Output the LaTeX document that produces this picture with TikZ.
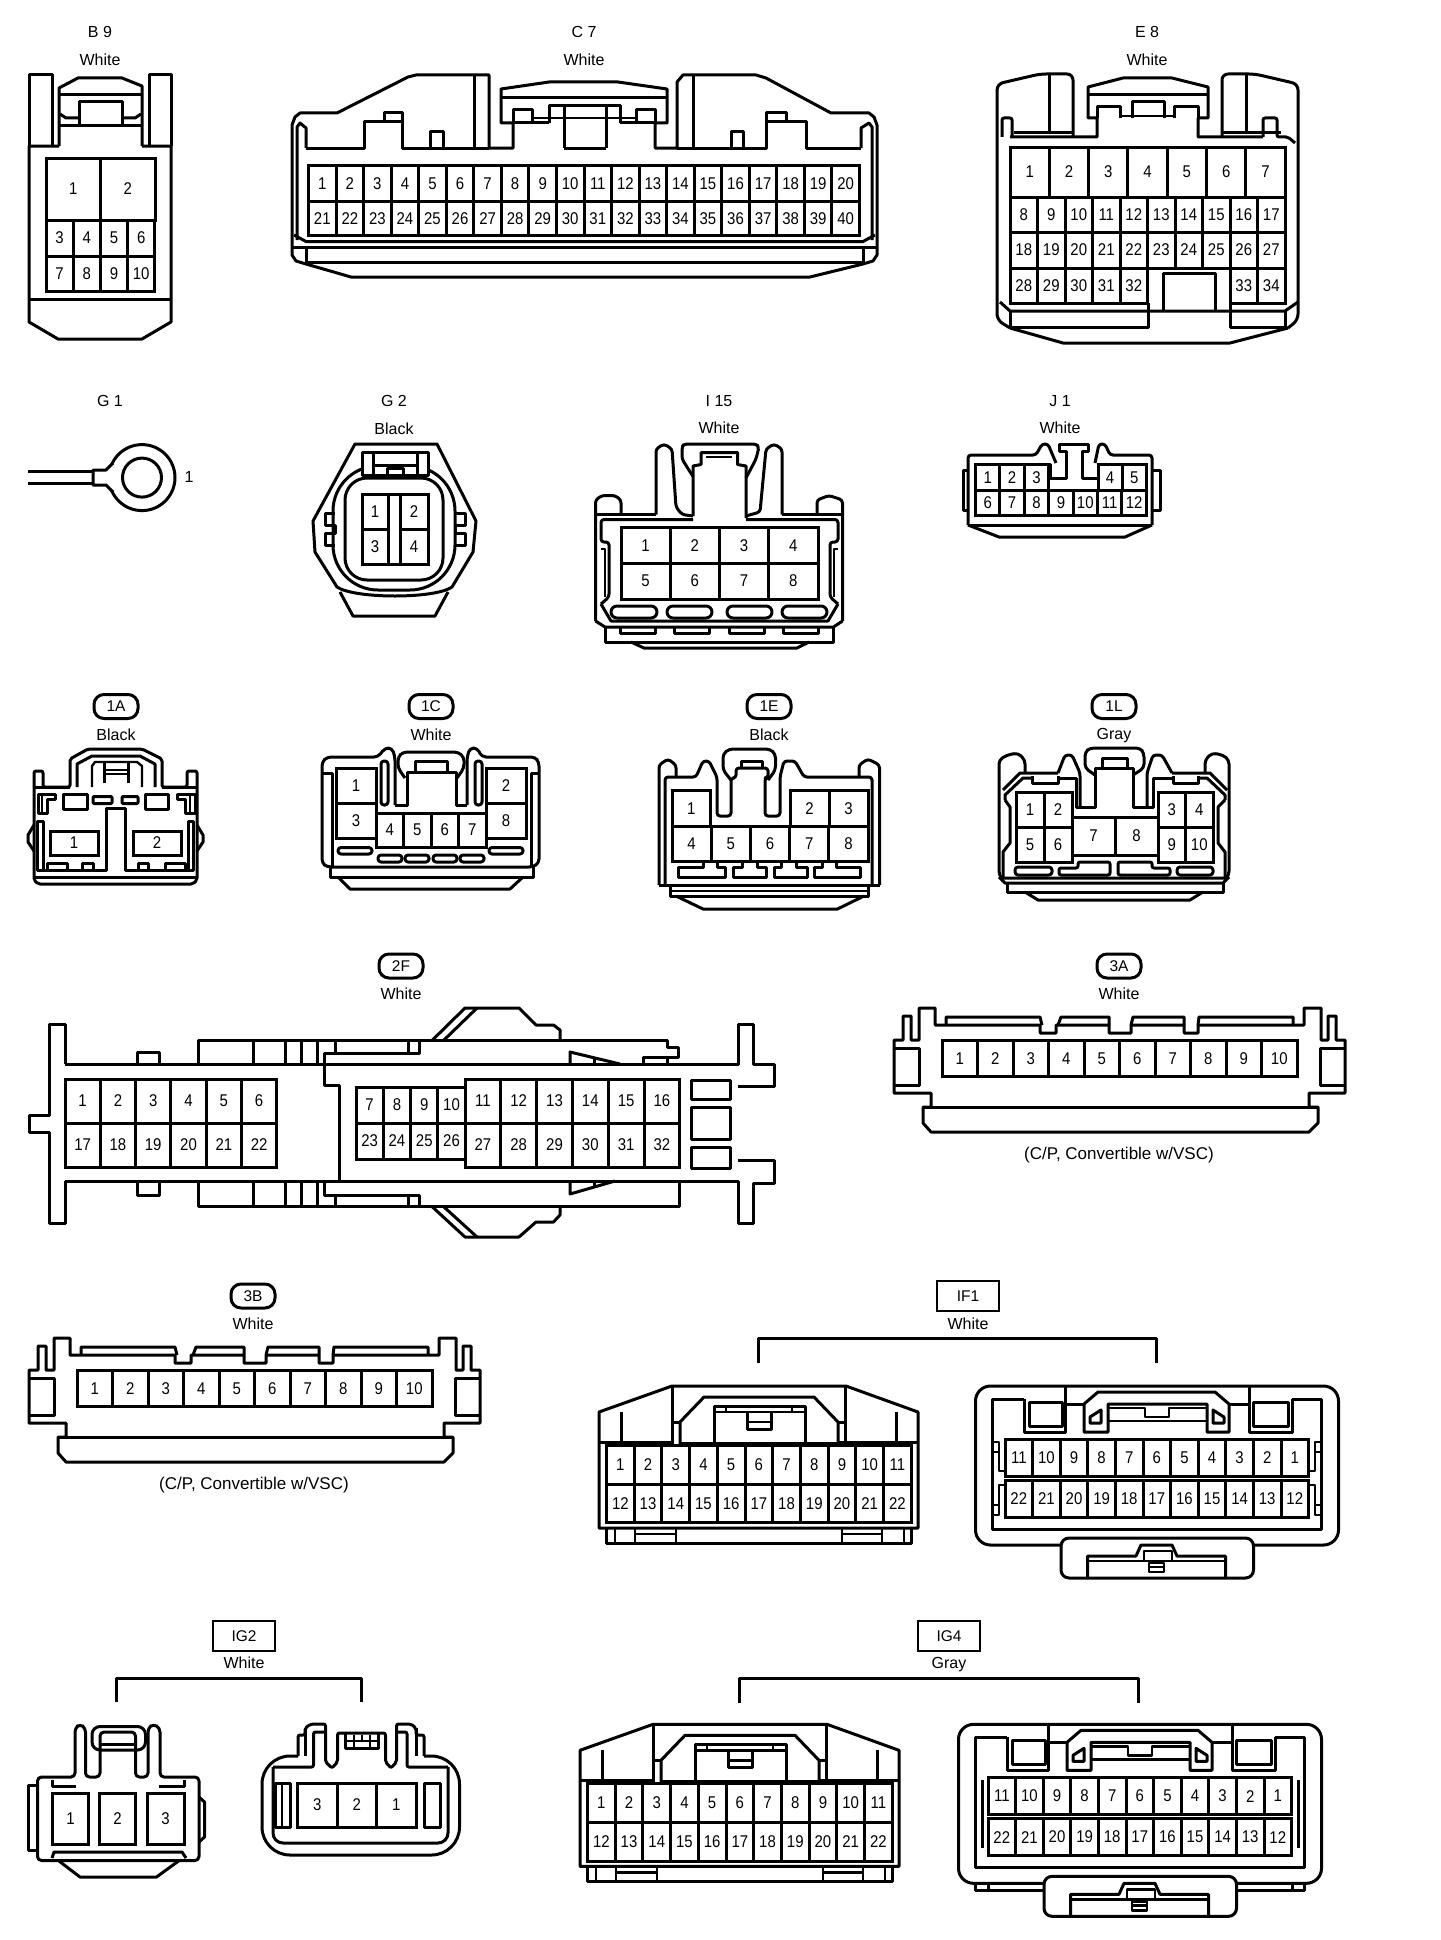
\documentclass[tikz,border=0pt]{standalone}
\usepackage{fontspec}
\setmainfont{Liberation Sans}
\newfontfamily\pinfont[FakeStretch=0.88]{Liberation Sans}
\tikzset{
  cn/.style={draw, line width=3pt, line join=round},
  thin cn/.style={draw, line width=2.4pt, line join=round},
  lab/.style={font=\fontsize{16}{16}\selectfont, inner sep=0pt},
  badge/.style={draw, line width=3pt, rounded corners=10pt, minimum width=44pt, minimum height=24pt, inner sep=0pt, font=\fontsize{15.5}{16}\selectfont},
  tagbox/.style={draw, line width=2.6pt, minimum width=62pt, minimum height=30pt, inner sep=0pt, font=\fontsize{15.5}{16}\selectfont},
  pincell/.style={draw, line width=3pt, inner sep=0pt, outer sep=0pt, anchor=north west, font=\pinfont\fontsize{17}{17}\selectfont}
}
% #1 name, #2 x, #3 y, #4 cell width, #5 cell height, #6 numbers
\newcommand{\pinrow}[6]{%
  \foreach \lab [count=\ci] in {#6}
    \node[pincell, minimum width=#4pt, minimum height=#5pt] (#1-\lab) at ({#2+(\ci-1)*#4},#3) {\lab};
}
\newcommand{\vscbody}[1]{%
  \draw[cn] (893,1040)--(902,1040)--(902,1016)--(910,1016)--(910,1040)--(918,1040)--(918,1008)--(934,1008)--(934,1025)--(1039,1025)--(1039,1033)--(1055,1033)--(1055,1025)--(1108,1025)--(1108,1033)--(1130,1033)--(1130,1025)--(1183,1025)--(1183,1033)--(1197,1033)--(1197,1025)--(1303,1025)--(1303,1008)--(1320,1008)--(1320,1040)--(1327,1040)--(1327,1016)--(1335,1016)--(1335,1040)--(1344,1040)--(1344,1093)--(1308,1093)--(1308,1107)--(1317,1107)--(1317,1123)--(1308,1132)--(930,1132)--(922,1123)--(922,1107)--(930,1107)--(930,1093)--(893,1093)--cycle;
  \draw[cn] (922,1107)--(1317,1107);
  \draw[cn] (945,1025)--(945,1017)--(1039,1017)--(1041,1025);
  \draw[cn] (1057,1025)--(1060,1017)--(1108,1017)--(1108,1025);
  \draw[cn] (1130,1025)--(1132,1017)--(1183,1017)--(1183,1025);
  \draw[cn] (1197,1025)--(1198,1017)--(1292,1017)--(1292,1025);
  \draw[cn] (893,1048)--(918,1048)--(918,1085)--(893,1085);
  \draw[cn] (1344,1048)--(1319,1048)--(1319,1085)--(1344,1085);
  \pinrow{#1}{941}{1040}{35.5}{36.7}{1,2,3,4,5,6,7,8,9,10}
  \node[lab, font=\fontsize{17}{17}\selectfont] (#1-note) at (1118,1155) {(C/P, Convertible w/VSC)};
}
\newcommand{\halfleft}[1]{%
  \draw[cn] (599,1412)--(672,1386)--(846,1386)--(918,1412)--(918,1528)--(599,1528)--cycle;
  \draw[cn] (599,1442)--(674,1442);
  \draw[cn] (839,1442)--(918,1442);
  \draw[cn] (621,1412)--(621,1442);
  \draw[cn] (896,1412)--(896,1442);
  \draw[cn] (672,1386)--(672,1445);
  \draw[cn] (845,1386)--(845,1445);
  \draw[cn] (672,1422)--(680,1422);
  \draw[cn] (838,1422)--(845,1422);
  \draw[cn] (680,1445)--(680,1422)--(704,1397)--(814,1397)--(838,1422)--(838,1445);
  \draw[cn] (680,1443)--(838,1443);
  \draw[cn] (714,1443)--(714,1406)--(805,1406)--(805,1443);
  \draw[thin cn] (714,1412)--(805,1412);
  \draw[thin cn] (726,1406)--(726,1412);
  \draw[thin cn] (792,1406)--(792,1412);
  \draw[cn] (747,1412)--(747,1429)--(771,1429)--(771,1412);
  \draw[thin cn] (747,1422)--(771,1422);
  \pinrow{#1}{606.5}{1445}{27.7}{39}{1,2,3,4,5,6,7,8,9,10,11}
  \pinrow{#1}{606.5}{1484}{27.7}{38.7}{12,13,14,15,16,17,18,19,20,21,22}
  \draw[cn] (606.5,1528)--(606.5,1543)--(911.5,1543)--(911.5,1528);
  \draw[thin cn] (615,1528)--(615,1543);
  \draw[thin cn] (635,1528)--(635,1543);
  \draw[thin cn] (676,1528)--(676,1543);
  \draw[thin cn] (635,1534)--(676,1534);
  \draw[thin cn] (842,1528)--(842,1543);
  \draw[thin cn] (882,1528)--(882,1543);
  \draw[thin cn] (904,1528)--(904,1543);
  \draw[thin cn] (842,1534)--(882,1534);
}
\newcommand{\halfright}[1]{%
  \draw[cn, rounded corners=15pt] (1061,1545)--(975.5,1545)--(975.5,1386)--(1338.5,1386)--(1338.5,1545)--(1253,1545);
  \draw[cn] (1024,1399)--(992,1399)--(992,1529)--(1321,1529)--(1321,1399)--(1292,1399);
  \draw[cn] (1024,1399)--(1024,1432)--(1065,1432)--(1065,1404)--(1084,1404);
  \draw[cn] (1292,1399)--(1292,1432)--(1249,1432)--(1249,1404)--(1229,1404);
  \draw[cn] (1065,1386)--(1065,1404);
  \draw[cn] (1249,1386)--(1249,1404);
  \draw[cn] (1029,1426)--(1029,1402)--(1062,1402)--(1062,1426)--cycle;
  \draw[cn] (1253,1426)--(1253,1402)--(1288,1402)--(1288,1426)--cycle;
  \draw[cn] (1084,1432)--(1084,1404)--(1098,1392)--(1215,1392)--(1229,1404)--(1229,1432)--(1207,1432)--(1207,1404)--(1108,1404)--(1108,1432)--cycle;
  \draw[cn] (1090,1423)--(1101,1423)--(1101,1410)--(1090,1417)--cycle;
  \draw[cn] (1213,1410)--(1224,1417)--(1224,1423)--(1213,1423)--cycle;
  \draw[thin cn] (1108,1408)--(1145,1408)--(1145,1417)--(1169,1417)--(1169,1408)--(1207,1408);
  \draw[thin cn] (1108,1421)--(1207,1421);
  \pinrow{#1}{1005}{1439}{27.6}{37.5}{11,10,9,8,7,6,5,4,3,2,1}
  \pinrow{#1}{1005}{1480}{27.6}{37.5}{22,21,20,19,18,17,16,15,14,13,12}
  \draw[cn, rounded corners=8pt] (1061,1538)--(1061,1578)--(1253.5,1578)--(1253.5,1538)--cycle;
  \draw[cn] (1087.5,1578)--(1087.5,1556)--(1136,1556)--(1141,1545)--(1172,1545)--(1177,1556)--(1225.5,1556)--(1225.5,1578);
  \draw[thin cn] (1087.5,1561)--(1225.5,1561);
  \draw[thin cn] (1144,1561)--(1144,1551)--(1172,1551)--(1172,1561);
  \draw[thin cn] (1149,1563)--(1164,1563)--(1164,1572)--(1149,1572)--cycle;
  \draw[thin cn] (1149,1567)--(1164,1567);
}
\begin{document}
\begin{tikzpicture}[x=1pt,y=-1pt]
\useasboundingbox[fill=white] (0,0) rectangle (1440,1940);

% B 9
\node[lab] (b9-name) at (100,32) {B 9};
\node[lab] (b9-color) at (100,60) {White};
\draw[cn] (59,146)--(29,146)--(29,322)--(58,339)--(142,339)--(171,322)--(171,146)--(142,146);
\draw[cn] (29,146)--(29,75)--(52,75)--(52,146);
\draw[cn] (149,146)--(149,75)--(171,75)--(171,146);
\draw[cn] (59,146)--(59,88)--(78,78)--(122,78)--(142,86)--(142,146);
\draw[cn] (60,95)--(141,95);
\draw[cn] (60,126)--(141,126);
\draw[cn] (79,126)--(79,102)--(122,102)--(122,126);
\draw[cn] (60,114)--(66,118)--(79,118);
\draw[cn] (141,114)--(135,118)--(122,118);
\draw[cn] (29,299)--(171,299);
\pinrow{b9}{46}{158}{54.5}{62}{1,2}
\pinrow{b9}{46}{220}{27.2}{36}{3,4,5,6}
\pinrow{b9}{46}{256}{27.2}{35}{7,8,9,10}

% C 7
\node[lab] (c7-name) at (584,32) {C 7};
\node[lab] (c7-color) at (584,60) {White};
\draw[cn] (292,125)--(295,117)--(300,113)--(337,113)--(408,77)--(416,75)--(489,75)--(489,148)--(513,148)--(513,123)--(501,123)--(501,89)--(549,82)--(618,82)--(667,89)--(667,123)--(655,123)--(655,148)--(677,148)--(677,82)--(683,75)--(756,75)--(766,78)--(831,113)--(869,113)--(874,117)--(877,125)--(877,255)--(873,261)--(863,264)--(810,277)--(351,277)--(306,264)--(296,261)--(292,255)--cycle;
\draw[cn] (474,75)--(474,148);
\draw[cn] (693,75)--(693,148);
\draw[cn] (501,98)--(667,98);
\draw[cn] (513,123)--(513,110)--(532,110)--(532,123);
\draw[cn] (636,123)--(636,110)--(655,110)--(655,123);
\draw[cn] (549,123)--(549,106)--(620,106)--(620,123);
\draw[cn] (564,148)--(564,106);
\draw[cn] (606,148)--(606,106);
\draw[thin cn] (532,118)--(636,118);
\draw[cn] (513,123)--(549,123);
\draw[cn] (620,123)--(655,123);
\draw[cn] (306,148)--(364,148)--(364,122)--(402,122)--(402,148)--(489,148);
\draw[cn] (384,122)--(384,113)--(402,113)--(402,122);
\draw[cn] (430,148)--(430,132)--(443,132)--(443,148);
\draw[cn] (564,148)--(606,148);
\draw[cn] (677,148)--(766,148)--(766,122)--(806,122)--(806,148)--(861,148);
\draw[cn] (766,122)--(766,113)--(786,113)--(786,122);
\draw[cn] (731,148)--(731,132)--(743,132)--(743,148);
\draw[cn] (306,148)--(306,128)--(300,123)--(297,127)--(297,240);
\draw[cn] (861,148)--(861,128)--(869,123)--(872,127)--(872,240);
\pinrow{c7}{308.5}{165.7}{27.55}{35.3}{1,2,3,4,5,6,7,8,9,10,11,12,13,14,15,16,17,18,19,20}
\pinrow{c7}{308.5}{201}{27.55}{34.7}{21,22,23,24,25,26,27,28,29,30,31,32,33,34,35,36,37,38,39,40}
\draw[cn] (294,235)--(306,241.5)--(863,241.5)--(875,235);
\draw[cn] (293,247)--(876,247);
\draw[cn] (306,247)--(306,264);
\draw[cn] (863,247)--(863,264);
\draw[cn] (306,262)--(863,262);

% E 8
\node[lab] (e8-name) at (1147,32) {E 8};
\node[lab] (e8-color) at (1147,60) {White};
\draw[cn, rounded corners=6pt] (1010,328)--(997,320)--(997,84)--(1040,74)--(1073,74)--(1073,137);
\draw[cn, rounded corners=6pt] (1288,328)--(1298,320)--(1298,84)--(1255,74)--(1222,74)--(1222,137);
\draw[cn] (1010,328)--(1063,343)--(1230,343)--(1288,328);
\draw[cn] (1049,74)--(1049,133);
\draw[cn] (1246,74)--(1246,133);
\draw[cn] (1014,133)--(1073,133);
\draw[cn] (1222,133)--(1281,133);
\draw[cn, rounded corners=2pt] (1002,137)--(1002,118)--(1012,118)--(1012,137);
\draw[cn] (1010,137)--(1097,137)--(1097,118)--(1088,118)--(1088,87)--(1123,78)--(1172,78)--(1208,87)--(1208,118)--(1198,118)--(1198,137)--(1263,137);
\draw[cn, rounded corners=2pt] (1263,137)--(1263,118)--(1277,118)--(1277,137)--(1288,137)--(1295,143);
\draw[cn] (1088,95)--(1208,95);
\draw[cn] (1097,118)--(1097,107)--(1120,107)--(1120,118);
\draw[cn] (1132,118)--(1132,102)--(1164,102)--(1164,118);
\draw[cn] (1174,118)--(1174,107)--(1198,107)--(1198,118);
\draw[thin cn] (1120,116)--(1174,116);
\pinrow{e8}{1010}{147}{39.3}{50}{1,2,3,4,5,6,7}
\pinrow{e8}{1010}{197}{27.5}{35}{8,9,10,11,12,13,14,15,16,17}
\pinrow{e8}{1010}{232}{27.5}{36}{18,19,20,21,22,23,24,25,26,27}
\pinrow{e8}{1010}{268}{27.5}{35}{28,29,30,31,32}
\pinrow{e8}{1230}{268}{27.5}{35}{33,34}
\draw[cn] (1163,311)--(1163,273)--(1215,273)--(1215,311);
\draw[cn] (1000,302)--(1010,311)--(1285,311)--(1298,302);
\draw[cn] (1010,311)--(1010,327)--(1148,327)--(1148,303);
\draw[cn] (1230,303)--(1230,327)--(1285,327)--(1285,311);

% G 1
\node[lab] (g1-name) at (110,401) {G 1};
\draw[cn] (142,477.6) circle[radius=33pt];
\draw[cn] (142,477.6) circle[radius=19.5pt];
\draw[cn, fill=white] (113,463)--(106,470)--(93,470)--(93,485)--(106,485)--(113,492);
\draw[cn] (28,471.5)--(93,471.5);
\draw[cn] (28,483)--(93,483);
\node[lab] (g1-pin) at (189,477) {1};

% G 2
\node[lab] (g2-name) at (394,401) {G 2};
\node[lab] (g2-color) at (394,429) {Black};
\draw[cn] (355,444)--(437,444)--(476,521)--(473,552)--(452,587) .. controls (435,599) and (355,599) .. (337,587)--(315,552)--(313,521)--cycle;
\draw[cn] (340,592)--(353,616)--(435,616)--(448,592);
\draw[cn, rounded corners=45pt] (333,466) rectangle (455,590);
\draw[cn, rounded corners=22pt] (345,478) rectangle (443,580);
\draw[cn, fill=white] (362,452) rectangle (428,475);
\draw[cn] (373,452)--(373,475);
\draw[cn] (417,452)--(417,475);
\draw[cn] (373,465)--(417,465);
\draw[cn] (387,475)--(387,468)--(403,468)--(403,475);
\pinrow{g2}{362}{494}{26}{35}{1}
\pinrow{g2}{400}{494}{28}{35}{2}
\pinrow{g2}{362}{529}{26}{35.5}{3}
\pinrow{g2}{400}{529}{28}{35.5}{4}
\draw[cn] (388,494)--(400,494);
\draw[cn] (388,564.5)--(400,564.5);
\draw[cn] (335,513)--(325,513)--(325,525)--(335,525)--(335,533)--(325,533)--(325,545)--(335,545);
\draw[cn] (455,513)--(465,513)--(465,525)--(455,525)--(455,533)--(465,533)--(465,545)--(455,545);

% I 15
\node[lab] (i15-name) at (719,401) {I 15};
\node[lab] (i15-color) at (719,428) {White};
\draw[cn, rounded corners=3pt] (595.5,621)--(595.5,500)--(602,495.5)--(615,495.5)--(621,500)--(621,514.5);
\draw[cn] (595.5,514.5)--(656,514.5);
\draw[cn, rounded corners=3pt] (656,514.5)--(656,449)--(664,444)--(672,449)--(676,507)--(682,514.5)--(693,516);
\draw[cn] (693,516)--(693,466)--(701,464.5)--(701,452.5)--(737.5,452.5)--(737.5,464.5)--(746,466)--(746,518);
\draw[thin cn] (706,457)--(732,457);
\draw[cn, rounded corners=3pt] (693,476.5)--(682,459)--(682,447)--(684,444)--(756,444)--(759,447)--(756,459)--(746,478);
\draw[cn, rounded corners=3pt] (746,516)--(760,512)--(766,449)--(774,444)--(782,449)--(782,514.5);
\draw[cn] (782,514.5)--(842.5,514.5);
\draw[cn, rounded corners=3pt] (817,514.5)--(817,500)--(829,495.5)--(842.5,500)--(842.5,621);
\draw[cn, rounded corners=3pt] (693,519.5)--(601,519.5)--(601,542)--(609,542)--(609,597)--(601,604);
\draw[cn, rounded corners=3pt] (746,519.5)--(838,519.5)--(838,542)--(830,542)--(830,597)--(838,604);
\draw[thin cn] (601,549)--(605,549)--(605,597);
\draw[thin cn] (838,549)--(834,549)--(834,597);
\pinrow{i15}{621}{527.5}{49.25}{35.5}{1,2,3,4}
\pinrow{i15}{621}{563}{49.25}{36}{5,6,7,8}
\foreach \px/\qx [count=\ci] in {611/657,667/712,727/772,782/827}
  \draw[cn, rounded corners=6pt] (\px,606) rectangle (\qx,618);
\draw[cn] (601,604)--(611,621)--(828,621)--(838,604);
\draw[cn] (595.5,621)--(605,627)--(833.5,627)--(842.5,621);
\draw[cn] (605,627)--(605,642)--(833.5,642)--(833.5,627);
\draw[cn] (631,642)--(644,648)--(797,648)--(809,642);
\foreach \px/\qx [count=\ci] in {620/655,674/709,729/764,783/818}
  \draw[cn] (\px,627)--(\px,633.5)--(\qx,633.5)--(\qx,627);

% J 1
\node[lab] (j1-name) at (1060,401) {J 1};
\node[lab] (j1-color) at (1060,428) {White};
\draw[cn, rounded corners=3pt] (968,525)--(968,455)--(1036,455)--(1042,444)--(1048,444)--(1056,463);
\draw[cn, rounded corners=3pt] (1095,463)--(1099,444)--(1105,444)--(1110,455)--(1152,455)--(1152,525);
\draw[cn] (968,525)--(1152,525);
\draw[cn] (968,525)--(999,537)--(1125,537)--(1152,525);
\draw[cn] (968,470)--(963,470)--(963,510)--(968,510);
\draw[cn] (1152,470)--(1160,470)--(1160,510)--(1152,510);
\draw[cn] (975.5,464.5)--(1050,464.5)--(1050,478)--(1066,478)--(1066,451)--(1059,451)--(1059,444)--(1088.5,444)--(1088.5,451)--(1082,451)--(1082,478)--(1098,478)--(1098,464.5);
\pinrow{j1}{975.5}{464.5}{24.4}{25.5}{1,2,3}
\pinrow{j1}{1098}{464.5}{24.1}{25.5}{4,5}
\pinrow{j1}{975.5}{490}{24.4}{25.5}{6,7,8,9,10,11,12}

% 1A
\node[badge] (a1-name) at (116,706.5) {1A};
\node[lab] (a1-color) at (116,734.5) {Black};
\draw[cn, rounded corners=2pt] (34,771)--(34,880)--(38,884)--(193,884)--(197,880)--(197,771)--(187,771)--(187,787)--(162,787)--(162,759)--(142,749)--(88,749)--(70,759)--(70,787)--(43,787)--(43,771)--cycle;
\draw[cn] (77,787)--(77,764)--(92,756)--(140,756)--(155,764)--(155,787);
\draw[thin cn] (92,787)--(92,766)--(95,762)--(137,762)--(142,766)--(142,787);
\draw[cn] (104,762)--(104,783);
\draw[cn] (128,762)--(128,783);
\draw[thin cn] (104,770)--(128,770);
\draw[thin cn] (104,774)--(128,774);
\draw[cn] (34,787)--(70,787);
\draw[cn] (162,787)--(197,787);
\draw[cn] (63,794) rectangle (87,809);
\draw[cn, rounded corners=1pt] (93,796.5) rectangle (112,803.5);
\draw[cn, rounded corners=1pt] (122,796.5) rectangle (138,803.5);
\draw[cn] (145,794) rectangle (168,809);
\draw[cn] (38,794)--(55,794)--(55,799)--(47,799)--(47,813)--(38,813)--cycle;
\draw[cn] (195,794)--(177,794)--(177,799)--(185,799)--(185,813)--(195,813)--cycle;
\draw[thin cn] (42,794)--(42,813);
\draw[thin cn] (190,794)--(190,813);
\draw[cn] (37,870)--(106,870)--(106,808)--(125,808)--(125,870)--(193,870);
\draw[cn] (37,821) rectangle (43,870);
\draw[cn] (188,821) rectangle (193,870);
\draw[cn] (34,825)--(28,835)--(28,842)--(34,851);
\draw[cn] (197,825)--(203,835)--(203,842)--(197,851);
\pinrow{a1}{50}{831}{48}{24}{1}
\pinrow{a1}{133}{831}{48}{24}{2}
\draw[cn] (47,870)--(47,863)--(67,863)--(67,870);
\draw[cn] (82,870)--(82,863)--(93,863)--(93,870);
\draw[cn] (138,870)--(138,863)--(148,863)--(148,870);
\draw[cn] (165,870)--(165,863)--(185,863)--(185,870);
\draw[cn] (34,877)--(197,877);

% 1C
\node[badge] (c1-name) at (431,706.5) {1C};
\node[lab] (c1-color) at (431,734.5) {White};
\draw[cn, rounded corners=4pt] (395,805)--(395,757)--(392,748)--(385,748)--(378,757)--(327,757)--(322,762)--(322,863)--(327,867)--(533,867)--(539,863)--(539,762)--(535,757)--(482,757)--(477,748)--(470,748)--(467,757)--(467,805);
\draw[cn, rounded corners=4pt] (405,778)--(398,768)--(398,757)--(403,752)--(458,752)--(464,757)--(464,768)--(457,778);
\draw[cn] (395,805)--(407,805)--(407,772)--(415,772)--(415,761)--(447,761)--(447,772)--(456,772)--(456,805)--(467,805);
\draw[cn] (415,772)--(447,772);
\draw[cn, rounded corners=3pt] (381,761) rectangle (388,805);
\draw[cn, rounded corners=3pt] (475,761) rectangle (482,805);
\draw[cn] (322,773)--(332,773)--(332,867);
\draw[cn] (539,773)--(531,773)--(531,867);
\pinrow{c1}{336}{768}{40}{35}{1}
\pinrow{c1}{336}{803}{40}{35}{3}
\pinrow{c1}{486}{768}{40}{35}{2}
\pinrow{c1}{486}{803}{40}{35}{8}
\pinrow{c1}{376}{813}{27.5}{34}{4,5,6,7}
\foreach \px/\qx [count=\ci] in {338/372,489/523}
  \draw[cn, rounded corners=3pt] (\px,847.5) rectangle (\qx,854);
\foreach \px/\qx [count=\ci] in {378/402,405/429,433/457,460/484}
  \draw[cn, rounded corners=3pt] (\px,855) rectangle (\qx,862);
\draw[cn] (330,867)--(330,877)--(533,877)--(533,867);
\draw[cn] (338,877)--(350,889)--(510,889)--(523,877);

% 1E
\node[badge] (e1-name) at (769,706.5) {1E};
\node[lab] (e1-color) at (769,734.5) {Black};
\draw[cn, rounded corners=3pt] (659,885)--(659,765)--(668,759)--(676,765)--(676,777);
\draw[cn, rounded corners=3pt] (859,777)--(859,765)--(868,759)--(879.5,765)--(879.5,885);
\draw[cn, rounded corners=3pt] (665,885)--(665,777)--(696,777)--(703,761)--(709,761)--(717,777)--(717,816)--(731,816)--(731,778)--(736,778)--(736,768)--(768,768)--(768,778)--(765,778)--(765,816)--(780,816)--(780,777)--(784,761)--(795,761)--(804,777)--(872,777)--(872,885);
\draw[cn] (741.5,768)--(741.5,761)--(762,761)--(762,768);
\draw[cn, rounded corners=4pt] (731,780)--(723,770)--(723,754)--(729,749)--(770,749)--(775.5,754)--(775.5,770)--(768,780);
\pinrow{e1}{672}{790}{38.6}{36.5}{1}
\pinrow{e1}{790}{790}{39}{36.5}{2,3}
\pinrow{e1}{672}{826.5}{39.2}{34.5}{4,5,6,7,8}
\foreach \px/\qx/\sx/\tx [count=\ci] in {678/725/703/717,733.5/766/742/757,774/807/781/796,814/860/822/836}
  \draw[cn] (\sx,861)--(\sx,867)--(\px,867)--(\px,877)--(\qx,877)--(\qx,867)--(\tx,867)--(\tx,861);
\draw[cn] (659,885)--(879.5,885);
\draw[cn] (670,885)--(670,896)--(868,896)--(868,885);
\draw[thin cn] (670,891)--(868,891);
\draw[cn] (676,896)--(703,909)--(837.5,909)--(864,896);

% 1L
\node[badge] (l1-name) at (1114,706.5) {1L};
\node[lab] (l1-color) at (1114,736) {Gray};
\draw[cn, rounded corners=4pt] (1003,880)--(999,875)--(999,760)--(1007,755)--(1018,753)--(1025,760)--(1025,773);
\draw[cn, rounded corners=4pt] (1205,773)--(1205,760)--(1212,753)--(1223,755)--(1229,760)--(1229,875)--(1225,880);
\draw[cn] (1003,790)--(1020,773)--(1058,773);
\draw[cn] (1227,790)--(1210,773)--(1172,773);
\draw[cn] (1005,800)--(1005,795)--(1023,778)--(1032,778);
\draw[cn] (1225,800)--(1225,795)--(1207,778)--(1198,778);
\draw[cn] (1032,776)--(1032,783)--(1058,783)--(1058,776);
\draw[cn] (1173,776)--(1173,783)--(1198,783)--(1198,776);
\draw[cn] (1058,778)--(1076,778)--(1076,807)--(1095,807)--(1095,768)--(1133,768)--(1133,807)--(1153,807)--(1153,778)--(1173,778);
\draw[cn, rounded corners=3pt] (1058,773)--(1065,755)--(1072,755)--(1080,773)--(1080,807);
\draw[cn, rounded corners=3pt] (1147,807)--(1147,773)--(1153,755)--(1162,755)--(1172,773);
\draw[cn, rounded corners=4pt] (1095,775)--(1085,768)--(1085,752)--(1090,748)--(1140,748)--(1144,753)--(1144,768)--(1133,775);
\draw[cn] (1102,768)--(1102,758)--(1127,758)--(1127,768);
\pinrow{l1}{1016}{792}{28}{35}{1,2}
\pinrow{l1}{1016}{827}{28}{35}{5,6}
\pinrow{l1}{1158}{792}{27.5}{35}{3,4}
\pinrow{l1}{1158}{827}{27.5}{35}{9,10}
\pinrow{l1}{1072}{817}{43}{38}{7,8}
\draw[cn, rounded corners=3pt] (1015,867) rectangle (1052,875);
\draw[cn, rounded corners=3pt] (1177,867) rectangle (1213,875);
\draw[cn, rounded corners=2pt] (1059,875)--(1059,868)--(1078,868)--(1078,862)--(1110,862)--(1110,875)--cycle;
\draw[cn, rounded corners=2pt] (1118,875)--(1118,862)--(1152,862)--(1152,868)--(1170,868)--(1170,875)--cycle;
\draw[cn] (1005,800)--(1010,807)--(1010,843)--(1003,852)--(1003,878)--(1225,878)--(1225,852)--(1218,843)--(1218,807)--(1225,800);
\draw[cn] (999,877)--(1005,883)--(1223,883)--(1229,877);
\draw[cn] (1007,883)--(1007,892)--(1223,892)--(1223,883);
\draw[cn] (1025,892)--(1038,900)--(1190,900)--(1203,892);

% 2F
\node[badge] (f2-name) at (401,966) {2F};
\node[lab] (f2-color) at (401,994) {White};
\draw[cn] (65,1064)--(65,1024)--(49.5,1024)--(49.5,1115)--(29,1115)--(29,1132)--(49.5,1132)--(49.5,1223)--(65,1223)--(65,1181);
\draw[cn] (65,1064)--(198,1064);
\draw[cn] (137,1064)--(137,1052)--(159,1052)--(159,1064);
\draw[cn] (65,1181)--(198,1181);
\draw[cn] (137,1181)--(137,1195)--(159,1195)--(159,1181);
\draw[cn] (198,1064)--(198,1040)--(667,1040)--(667,1047)--(678.5,1047)--(678.5,1057)--(667,1057)--(667,1064);
\draw[cn] (198,1181)--(198,1206)--(679.5,1206)--(679.5,1181);
\foreach \vx in {253.5,285.5,301,317,335} {
  \draw[cn] (\vx,1040)--(\vx,1053);
  \draw[cn] (\vx,1195)--(\vx,1206);
}
\foreach \vx in {253.5,285.5,301,317} {
  \draw[cn] (\vx,1053)--(\vx,1064);
  \draw[cn] (\vx,1181)--(\vx,1195);
}
\draw[cn] (198,1064)--(324,1064);
\draw[cn] (339,1181)--(339,1085)--(324,1085)--(324,1053)--(419,1053)--(419,1040);
\draw[cn] (408,1040)--(408,1053);
\draw[cn] (324,1064)--(738,1064)--(738,1024)--(753.5,1024)--(753.5,1064)--(774,1064)--(774,1086)--(738,1086);
\draw[cn] (198,1181)--(738,1181)--(738,1223)--(753.5,1223)--(753.5,1183)--(774,1183)--(774,1160)--(738,1160);
\draw[cn] (324,1181)--(324,1195)--(419,1195)--(419,1206);
\draw[cn] (408,1195)--(408,1206);
\draw[cn] (432.5,1040)--(465,1008)--(519,1008)--(536,1025)--(553.5,1025)--(560,1030)--(560,1040);
\draw[cn] (444,1040)--(477,1008);
\draw[cn] (432.5,1207)--(465,1237)--(519,1237)--(536,1222)--(553.5,1222)--(560,1215)--(560,1206);
\draw[cn] (444,1207)--(477,1237);
\draw[cn] (570,1064)--(570,1052)--(620,1064);
\draw[cn] (594,1058)--(594,1064);
\draw[cn] (643,1064)--(643,1057)--(667,1057);
\draw[cn] (570,1181)--(570,1194)--(615,1181);
\draw[cn] (594,1181)--(594,1188);
\pinrow{f2}{65}{1079}{35.3}{44}{1,2,3,4,5,6}
\pinrow{f2}{65}{1123}{35.3}{44}{17,18,19,20,21,22}
\pinrow{f2}{356}{1087}{27.3}{36}{7,8,9,10}
\pinrow{f2}{356}{1123}{27.3}{36}{23,24,25,26}
\pinrow{f2}{465}{1079}{35.8}{44}{11,12,13,14,15,16}
\pinrow{f2}{465}{1123}{35.8}{44}{27,28,29,30,31,32}
\draw[cn] (691,1080) rectangle (730,1099);
\draw[cn] (691,1107) rectangle (730,1139);
\draw[cn] (691,1147) rectangle (730,1168);

% 3A
\node[badge] (a3-name) at (1119,966) {3A};
\node[lab] (a3-color) at (1119,994) {White};
\begin{scope}[shift={(1,0)}]
\vscbody{a3}
\end{scope}

% 3B
\node[badge] (b3-name) at (253,1296) {3B};
\node[lab] (b3-color) at (253,1324) {White};
\begin{scope}[shift={(-864,330)}]
\vscbody{b3}
\end{scope}

% IF1
\node[tagbox] (if1-name) at (968,1296) {IF1};
\node[lab] (if1-color) at (968,1323.5) {White};
\coordinate (if1-a) at (758.5,1363);
\coordinate (if1-b) at (1156.5,1363);
\draw[cn] (if1-a)--(758.5,1338)--(1156.5,1338)--(if1-b);
\halfleft{if1l}
\halfright{if1r}
\draw[thin cn] (1005,1471)--(999,1471)--(999,1442)--(992,1442);
\draw[thin cn] (992,1452)--(999,1452);
\draw[thin cn] (1005,1485)--(999,1485)--(999,1515)--(992,1515);
\draw[thin cn] (992,1505)--(999,1505);
\draw[thin cn] (1308.5,1471)--(1315,1471)--(1315,1442)--(1321,1442);
\draw[thin cn] (1321,1452)--(1315,1452);
\draw[thin cn] (1308.5,1485)--(1315,1485)--(1315,1515)--(1321,1515);
\draw[thin cn] (1321,1505)--(1315,1505);

% IG2
\node[tagbox] (ig2-name) at (244,1636) {IG2};
\node[lab] (ig2-color) at (244,1663) {White};
\coordinate (ig2-a) at (116,1702);
\coordinate (ig2-b) at (361,1702);
\draw[cn] (ig2-a)--(116,1678)--(361,1678)--(ig2-b);
\draw[cn, rounded corners=4pt] (37.5,1785)--(37.5,1777)--(75,1777)--(75,1728)--(80,1724)--(85.5,1728)--(85.5,1777)--(100,1777)--(100,1748);
\draw[cn, rounded corners=4pt] (135.5,1748)--(135.5,1777)--(148,1777)--(148,1728)--(153.5,1724)--(160,1728)--(160,1777)--(199,1777)--(199,1860.5)--(37.5,1860.5)--(37.5,1785);
\draw[cn] (37.5,1785)--(28.5,1785)--(28.5,1850)--(37.5,1850);
\draw[cn] (199,1797)--(204.5,1802)--(204.5,1837)--(199,1842);
\draw[cn, rounded corners=8pt] (92,1726.5) rectangle (145.5,1750);
\draw[cn, rounded corners=4pt] (100,1748)--(100,1732)--(135.5,1732)--(135.5,1748);
\draw[cn] (100,1744)--(135.5,1744);
\draw[cn] (52,1780)--(52,1786)--(76,1786);
\draw[cn] (159,1786)--(184,1786)--(184,1780);
\pinrow{ig2l}{52.5}{1793}{36}{51}{1}
\pinrow{ig2l}{99.5}{1793}{36}{51}{2}
\pinrow{ig2l}{147}{1793}{37}{51}{3}
\draw[cn] (52,1858)--(54,1852)--(182,1852)--(186,1858);
\draw[cn] (59,1861)--(80,1877)--(156.5,1877)--(178.5,1861);
\draw[cn, rounded corners=28pt] (298,1756)--(262,1756)--(262,1855)--(459.5,1855)--(459.5,1756)--(424,1756);
\draw[cn, rounded corners=2pt] (298,1756)--(298,1735)--(305,1735)--(305,1728)--(311,1724)--(325.5,1724)--(325.5,1762)--(332,1768)--(337.5,1762)--(337.5,1733)--(385.5,1733)--(385.5,1762)--(391,1768)--(396.5,1762)--(396.5,1724)--(411,1724)--(416,1728)--(416,1735)--(424,1735)--(424,1756);
\draw[cn] (305,1728)--(305,1756);
\draw[cn] (416,1728)--(416,1756);
\draw[cn, rounded corners=2pt] (273,1767)--(313.5,1767)--(313.5,1732)--(325.5,1732);
\draw[cn, rounded corners=2pt] (396.5,1732)--(407,1732)--(407,1767)--(448,1767);
\draw[cn, rounded corners=10pt] (273,1767)--(273,1843)--(448,1843)--(448,1767);
\pinrow{ig2r}{297.5}{1783}{39.5}{44}{3,2,1}
\draw[cn] (275,1783) rectangle (290,1827);
\draw[thin cn] (282,1783)--(282,1827);
\draw[cn] (424,1783) rectangle (440,1827);
\draw[cn] (345.5,1733)--(345.5,1748)--(378,1748)--(378,1733);
\draw[thin cn] (346,1741)--(378,1741);
\draw[thin cn] (354,1735)--(354,1748);
\draw[thin cn] (362,1735)--(362,1741);
\draw[thin cn] (370,1735)--(370,1748);

% IG4
\node[tagbox] (ig4-name) at (949,1636) {IG4};
\node[lab] (ig4-color) at (949,1665) {Gray};
\coordinate (ig4-a) at (739.5,1703);
\coordinate (ig4-b) at (1138,1703);
\draw[cn] (ig4-a)--(739.5,1678)--(1138,1678)--(ig4-b);
\begin{scope}[shift={(-19,338.3)}]
\halfleft{ig4l}
\end{scope}
\begin{scope}[shift={(-17,338.3)}]
\halfright{ig4r}
\draw[cn] (999,1442)--(999,1510);
\draw[cn] (1315,1442)--(1315,1510);
\draw[cn] (992,1545)--(992,1552)--(1005,1552)--(1005,1545);
\draw[cn] (1005,1552)--(1061,1552);
\draw[cn] (1253,1552)--(1309,1552);
\draw[cn] (1309,1545)--(1309,1552)--(1321,1552)--(1321,1545);
\end{scope}
\end{tikzpicture}
\end{document}
